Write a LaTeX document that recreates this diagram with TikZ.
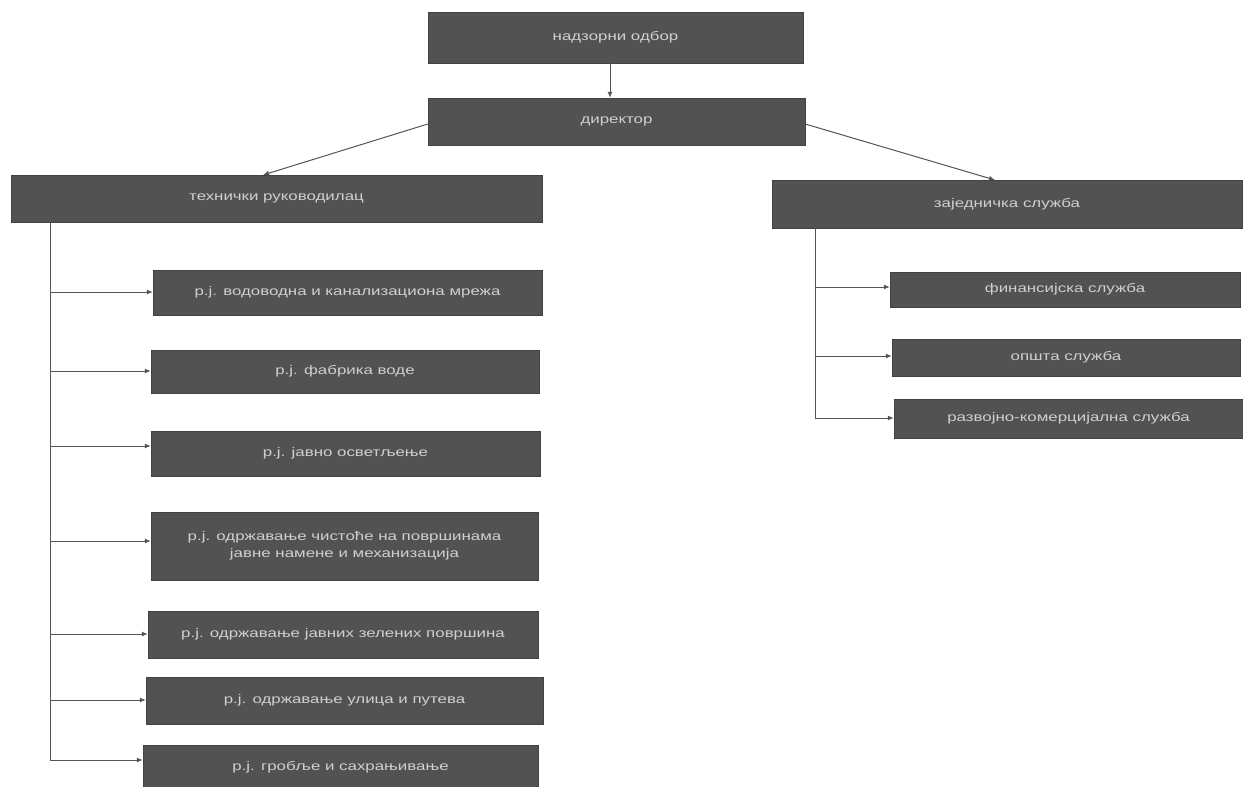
\documentclass[tikz,border=0pt]{standalone}
\usepackage{fontspec}
\setmainfont{Liberation Sans}
\newfontfamily\boxfont[FakeStretch=1.35]{Liberation Sans}
\usetikzlibrary{arrows.meta}
\definecolor{boxfill}{HTML}{525252}
\definecolor{boxtext}{HTML}{D0D0D0}
\definecolor{linecol}{HTML}{555555}
\tikzset{
  box/.style={draw=boxfill!80!black, fill=boxfill, text=boxtext, inner sep=2pt,
    font=\boxfont\fontsize{12.5}{16.5}\selectfont, align=center},
  conn/.style={draw=linecol, line width=1pt, -{Latex[length=6pt,width=5pt]}},
  trunk/.style={draw=linecol, line width=1pt}
}
\begin{document}
\begin{tikzpicture}[x=1pt,y=-1pt]
\useasboundingbox (0,0) rectangle (1243,787);
\fill[white] (0,0) rectangle (1243,787);
% top
\node[box, minimum width=375pt, minimum height=51pt] (nadz) at (615.5,37.5) {надзорни одбор};
\node[box, minimum width=377pt, minimum height=47pt] (dir) at (616.5,121.5) {директор};
\node[box, minimum width=531pt, minimum height=47pt] (teh) at (276.5,198.5) {технички руководилац};
\node[box, minimum width=470pt, minimum height=48pt] (zaj) at (1007,204) {заједничка служба};
% left units
\node[box, minimum width=389pt, minimum height=45pt] (l1) at (347.5,292.5) {р.ј. водоводна и канализациона мрежа};
\node[box, minimum width=388pt, minimum height=43pt] (l2) at (345,371.5) {р.ј. фабрика воде};
\node[box, minimum width=389pt, minimum height=45pt] (l3) at (345.5,453.5) {р.ј. јавно осветљење};
\node[box, minimum width=387pt, minimum height=68pt] (l4) at (344.5,546) {р.ј. одржавање чистоће на површинама\\јавне намене и механизација};
\node[box, minimum width=390pt, minimum height=47pt] (l5) at (343,634.5) {р.ј. одржавање јавних зелених површина};
\node[box, minimum width=397pt, minimum height=47pt] (l6) at (344.5,700.5) {р.ј. одржавање улица и путева};
\node[box, minimum width=395pt, minimum height=44pt] (l7) at (340.5,767) {р.ј. гробље и сахрањивање};
% right units
\node[box, minimum width=350pt, minimum height=35pt] (r1) at (1065,289.5) {финансијска служба};
\node[box, minimum width=348pt, minimum height=37pt] (r2) at (1066,357.5) {општа служба};
\node[box, minimum width=349pt, minimum height=39pt] (r3) at (1068.5,418.5) {развојно-комерцијална служба};
% connectors top
\draw[conn] (nadz.south -| 610,0) -- (dir.north -| 610,0);
\draw[conn] (dir.west |- 0,124) -- (263,175);
\draw[conn] (dir.east |- 0,124) -- (995,180);
% left trunk
\coordinate (lt) at (50,222);
\coordinate (lb) at (50,760);
\draw[trunk] (lt) -- (lb);
\foreach \n/\y in {l1/292,l2/371,l3/446,l4/541,l5/634,l6/700,l7/760}{
  \draw[conn] (50,\y) -- (\n.west |- 0,\y);
}
% right trunk
\coordinate (rt) at (815,228);
\coordinate (rb) at (815,418);
\draw[trunk] (rt) -- (rb);
\foreach \n/\y in {r1/287,r2/356,r3/418}{
  \draw[conn] (815,\y) -- (\n.west |- 0,\y);
}
\end{tikzpicture}
\end{document}
